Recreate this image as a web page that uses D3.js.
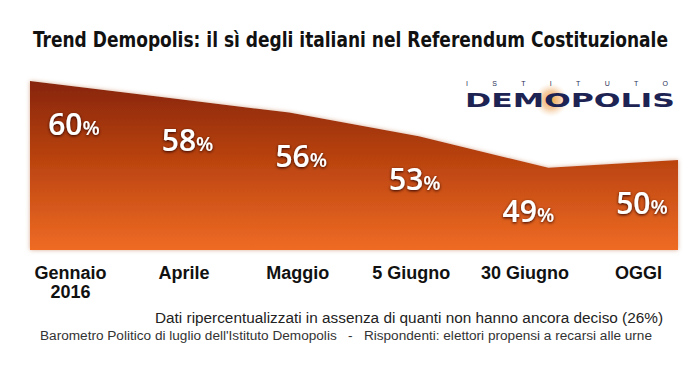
<!DOCTYPE html>
<html>
<head>
<meta charset="utf-8">
<script src="https://cdn.jsdelivr.net/npm/d3@7"></script>
<style>
  body { margin: 0; background: #fff; }
  svg { display: block; }
</style>
</head>
<body>
<div id="chart"></div>
<script>
// data
var categories = ["Gennaio 2016", "Aprile", "Maggio", "5 Giugno", "30 Giugno", "OGGI"];
var tickLabels = [["Gennaio", "2016"], ["Aprile"], ["Maggio"], ["5 Giugno"], ["30 Giugno"], ["OGGI"]];
var values = [60, 58, 56, 53, 49, 50];
var title = "Trend Demopolis: il sì degli italiani nel Referendum Costituzionale";
var notes = [
  "Dati ripercentualizzati in assenza di quanti non hanno ancora deciso (26%)",
  "Barometro Politico di luglio dell'Istituto Demopolis   -   Rispondenti: elettori propensi a recarsi alle urne"
];

var width = 700, height = 382;

var svg = d3.select("#chart").append("svg")
    .attr("width", width)
    .attr("height", height);

var defs = svg.append("defs");

var grad = defs.append("linearGradient")
    .attr("id", "areaFill")
    .attr("gradientUnits", "userSpaceOnUse")
    .attr("x1", 0).attr("y1", 80).attr("x2", 0).attr("y2", 250);
grad.append("stop").attr("offset", "0%").attr("stop-color", "#86240a");
grad.append("stop").attr("offset", "45%").attr("stop-color", "#b8420f");
grad.append("stop").attr("offset", "100%").attr("stop-color", "#ef6b24");

var glow = defs.append("filter").attr("id", "areaGlow")
    .attr("x", "-5%").attr("y", "-10%").attr("width", "110%").attr("height", "120%");
glow.append("feDropShadow")
    .attr("dx", 0).attr("dy", 0).attr("stdDeviation", 2)
    .attr("flood-color", "#c98a66").attr("flood-opacity", 0.7);

var txtShadow = defs.append("filter").attr("id", "txtShadow")
    .attr("x", "-20%").attr("y", "-30%").attr("width", "140%").attr("height", "160%");
txtShadow.append("feDropShadow")
    .attr("dx", 0).attr("dy", 1).attr("stdDeviation", 1.6)
    .attr("flood-color", "#2a0600").attr("flood-opacity", 1);

var logoGlow = defs.append("radialGradient").attr("id", "logoGlow");
logoGlow.append("stop").attr("offset", "0%").attr("stop-color", "#f5a640").attr("stop-opacity", 1);
logoGlow.append("stop").attr("offset", "55%").attr("stop-color", "#f0b070").attr("stop-opacity", 0.6);
logoGlow.append("stop").attr("offset", "100%").attr("stop-color", "#f6d9b8").attr("stop-opacity", 0);

// scales
var x = d3.scalePoint().domain(categories).range([30, 678]);
var xl = d3.scalePoint().domain(categories).range([70, 638]);
var y = d3.scaleLinear().domain([38.6, 60]).range([250, 81]);

// title
svg.append("text")
    .attr("x", 33).attr("y", 47)
    .attr("textLength", 635)
    .attr("lengthAdjust", "spacingAndGlyphs")
    .style("font-family", "'Liberation Sans Narrow', 'DejaVu Sans Condensed', sans-serif")
    .style("font-weight", "bold")
    .style("font-size", "22px")
    .style("fill", "#111")
    .text(title);

// area
var area = d3.area()
    .x(function (d, i) { return x(categories[i]); })
    .y0(y(y.domain()[0]))
    .y1(function (d) { return y(d); });

svg.append("path")
    .datum(values)
    .attr("d", area)
    .attr("fill", "url(#areaFill)")
    .attr("filter", "url(#areaGlow)");

// logo
var logo = svg.append("g");
logo.append("circle")
    .attr("cx", 551).attr("cy", 100).attr("r", 17)
    .attr("fill", "url(#logoGlow)");
logo.append("text")
    .attr("x", 466).attr("y", 86)
    .attr("textLength", 202)
    .attr("lengthAdjust", "spacing")
    .style("font-family", "'Liberation Sans', Arial, sans-serif")
    .style("font-size", "7px")
    .style("fill", "#2a2f55")
    .text("ISTITUTO");
logo.append("text")
    .attr("x", 465).attr("y", 107)
    .attr("textLength", 210)
    .attr("lengthAdjust", "spacingAndGlyphs")
    .style("font-family", "'DejaVu Sans', sans-serif")
    .style("font-weight", "bold")
    .style("font-size", "20px")
    .style("fill", "#1d2352")
    .text("DEMOPOLIS");

// value labels
var lab = svg.append("g").selectAll("text")
    .data(values)
    .join("text")
    .attr("x", function (d, i) { return xl(categories[i]) + 4; })
    .attr("y", function (d) { return y(d) + 54; })
    .attr("text-anchor", "middle")
    .attr("filter", "url(#txtShadow)")
    .style("font-family", "'Open Sans', sans-serif")
    .style("font-weight", 600)
    .style("fill", "#fff");
lab.append("tspan").style("font-size", "30px").text(function (d) { return d; });
lab.append("tspan").style("font-size", "20px").text("%");

// category axis
var axisG = svg.append("g")
    .attr("transform", "translate(0,266)")
    .call(d3.axisBottom(xl).tickSize(0).tickPadding(0));
axisG.select(".domain").remove();
axisG.selectAll(".tick text")
    .attr("fill", "#111")
    .style("font-family", "'Liberation Sans', Arial, sans-serif")
    .style("font-weight", "bold")
    .style("font-size", "18px")
    .each(function (d, i) {
      var t = d3.select(this).text(null);
      tickLabels[i].forEach(function (line, j) {
        t.append("tspan")
          .attr("x", 0)
          .attr("dy", j === 0 ? "0.71em" : "1.05em")
          .text(line);
      });
    });

// notes
svg.append("text")
    .attr("x", 155).attr("y", 323)
    .attr("textLength", 508)
    .attr("lengthAdjust", "spacingAndGlyphs")
    .style("font-family", "'Liberation Sans', Arial, sans-serif")
    .style("font-size", "14px")
    .style("fill", "#222")
    .text(notes[0]);
svg.append("text")
    .attr("x", 40).attr("y", 340)
    .attr("textLength", 612)
    .attr("lengthAdjust", "spacingAndGlyphs")
    .style("white-space", "pre")
    .style("font-family", "'Liberation Sans', Arial, sans-serif")
    .style("font-size", "12px")
    .style("fill", "#333")
    .text(notes[1]);
</script>
</body>
</html>
